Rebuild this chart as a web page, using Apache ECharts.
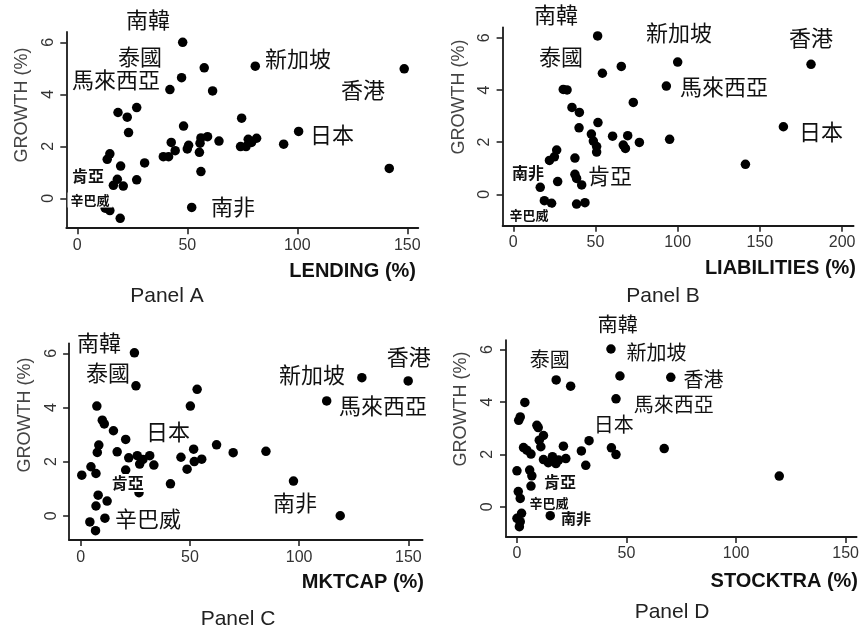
<!DOCTYPE html>
<html><head><meta charset="utf-8">
<script src="https://cdn.jsdelivr.net/npm/echarts@6/dist/echarts.min.js"></script>
<style>html,body{margin:0;padding:0;background:#fff}#c{width:862px;height:633px}</style>
</head><body><div id="c"></div>
<script>
// ---- data (x value, GROWTH %) ----
const lendingGrowth = [[47.9,6.0],[57.7,5.02],[47.4,4.64],[80.9,5.08],[148.6,4.98],[42.1,4.18],[61.5,4.13],[18.5,3.30],[22.7,3.12],[27.0,3.49],[23.3,2.53],[48.3,2.78],[74.7,3.08],[100.6,2.57],[42.7,2.15],[44.5,1.83],[39.1,1.6],[41.5,1.6],[50.0,1.9],[50.6,2.04],[55.8,2.12],[56.2,2.32],[59.2,2.37],[55.5,1.77],[64.4,2.2],[56.2,1.03],[74.2,1.99],[76.7,1.99],[77.7,2.27],[81.5,2.31],[79.2,2.15],[93.8,2.08],[141.8,1.15],[52.0,-0.35],[14.8,1.71],[13.6,1.5],[19.7,1.24],[30.6,1.36],[18.2,0.73],[27.0,0.71],[20.9,0.47],[12.7,-0.38],[14.8,-0.47],[19.5,-0.77],[16.4,0.5]];
const liabilitiesGrowth = [[51.3,6.07],[100,5.07],[181.1,4.98],[54.2,4.64],[65.7,4.9],[93.1,4.15],[30.4,4.02],[32.7,4.0],[73,3.52],[35.7,3.33],[40.2,3.14],[40,2.55],[51.5,2.75],[164.3,2.59],[47.5,2.31],[48.7,2.04],[50.7,1.83],[50.7,1.62],[60.4,2.23],[69.6,2.25],[66.9,1.89],[68.2,1.76],[76.7,1.99],[95.1,2.11],[141.2,1.15],[26.4,1.7],[25,1.44],[37.5,1.39],[27,0.49],[37.5,0.77],[38.5,0.61],[41.6,0.36],[16.4,0.27],[18.9,-0.24],[23.3,-0.34],[38.5,-0.37],[43.6,-0.32],[22,1.3]];
const mktcapGrowth = [[24.6,6.02],[25.3,4.8],[53.3,4.67],[50.2,4.05],[128.7,5.1],[149.9,4.98],[112.6,4.24],[7.4,4.05],[9.9,3.53],[10.8,3.39],[15,3.14],[20.6,2.82],[8.3,2.61],[7.6,2.34],[16.7,2.36],[22,2.14],[25.9,2.22],[27,1.91],[31.6,2.22],[33.5,1.87],[20.6,1.69],[28.5,2.08],[4.7,1.81],[0.5,1.5],[7,1.56],[41.1,1.18],[45.9,2.16],[48.7,1.72],[51.7,2.46],[52,2.0],[55.4,2.09],[62.2,2.62],[69.8,2.33],[84.8,2.38],[97.4,1.28],[118.8,0],[8,0.76],[7,0.36],[12.1,0.54],[11.1,-0.09],[4.2,-0.23],[6.8,-0.55],[26.7,0.85]];
const stocktraGrowth = [[42.9,6.02],[17.9,4.84],[24.5,4.6],[47,4.99],[70.2,4.94],[45.2,4.12],[3.6,3.98],[1.5,3.43],[0.8,3.3],[9.7,3.02],[9.1,3.11],[12.1,2.72],[10.2,2.54],[10.9,2.29],[3,2.26],[4.5,2.16],[6.4,2.01],[21.2,2.31],[22.3,1.84],[19,1.78],[16.2,1.91],[14.3,1.68],[12.1,1.8],[17.8,1.65],[29.4,2.13],[32.9,2.52],[31.4,1.58],[43.1,2.25],[45.2,1.99],[67.2,2.22],[119.7,1.17],[0,1.37],[5.8,1.4],[6.8,1.18],[6.4,0.79],[0.6,0.58],[1.5,0.32],[2.1,-0.25],[0,-0.44],[1.5,-0.57],[1.1,-0.76],[15.2,-0.34]];

// tick labels
const xTicksA = [0,50,100,150];
const xTicksB = [0,50,100,150,200];
const xTicksC = [0,50,100,150];
const xTicksD = [0,50,100,150];
const yTicks = [0,2,4,6];

// axis titles / panel titles
const xNames = ['LENDING (%)','LIABILITIES (%)','MKTCAP (%)','STOCKTRA (%)'];
const yName = 'GROWTH (%)';
const panelNames = ['Panel A','Panel B','Panel C','Panel D'];

// country annotations: [text, x, y, kind]
const labelsA = [['南韓',32.1,6.86,'big'],['泰國',28.5,5.43,'big'],['馬來西亞',17.6,4.55,'big'],['新加坡',100.3,5.36,'big'],['香港',129.9,4.17,'big'],['日本',115.8,2.43,'big'],['南非',70.8,-0.33,'big'],['肯亞',4.9,0.86,'bold'],['辛巴威',5.8,-0.07,'small']];
const labelsB = [['南韓',26,6.87,'big'],['新加坡',100.8,6.18,'big'],['香港',181.1,5.99,'big'],['泰國',29,5.26,'big'],['馬來西亞',128.2,4.11,'big'],['日本',187.2,2.42,'big'],['肯亞',58.8,0.7,'big'],['南非',8.9,0.82,'bold'],['辛巴威',9.5,-0.79,'small']];
const labelsC = [['南韓',8.4,6.38,'big'],['泰國',12.5,5.27,'big'],['新加坡',105.9,5.2,'big'],['香港',150.2,5.86,'big'],['馬來西亞',138.4,4.05,'big'],['日本',40,3.09,'big'],['肯亞',21.6,1.21,'bold'],['辛巴威',30.8,-0.12,'big'],['南非',98.1,0.47,'big']];
const labelsD = [['南韓',46,6.94,'big'],['新加坡',63.7,5.9,'big'],['泰國',15,5.64,'big'],['香港',85.1,4.87,'big'],['馬來西亞',71.5,3.92,'big'],['日本',44.2,3.16,'big'],['肯亞',19.6,0.94,'bold'],['辛巴威',14.6,0.14,'small'],['南非',26.9,-0.43,'boldm']];

// ---- layout ----
const grids = [
  {left:66.3, top:31.9, width:352, height:196.3},
  {left:502.6, top:27.3, width:351, height:198.4},
  {left:69.1, top:343.3, width:353.5, height:196.8},
  {left:506, top:340.1, width:351.5, height:196.8}
];
const xRanges = [[-5,155],[-6.5,207],[-5.3,156.5],[-5,155]];
const yRanges = [[-1.15,6.4],[-1.2,6.4],[-0.9,6.37],[-1.15,6.36]];
const xTickSets = [xTicksA,xTicksB,xTicksC,xTicksD];
const seriesData = [lendingGrowth, liabilitiesGrowth, mktcapGrowth, stocktraGrowth];
const allLabels = [labelsA,labelsB,labelsC,labelsD];

const LAT = '"Liberation Sans", Arial, sans-serif';
const CJK = '"Noto Sans CJK TC", "Noto Sans CJK SC", sans-serif';
const axisCol = '#1a1a1a';

const chart = echarts.init(document.getElementById('c'));
const option = {
  animation:false,
  backgroundColor:'#fff',
  grid: grids.map(g=>Object.assign({containLabel:false},g)),
  xAxis: grids.map((g,i)=>({
    gridIndex:i, type:'value', min:xRanges[i][0], max:xRanges[i][1],
    axisLine:{show:true,onZero:false,lineStyle:{color:axisCol,width:1.8}},
    axisTick:{show:true,customValues:xTickSets[i],length:6,lineStyle:{color:axisCol,width:1.5}},
    axisLabel:{customValues:xTickSets[i],margin:9,fontSize:16,color:'#333',fontFamily:LAT},
    splitLine:{show:false}
  })),
  yAxis: grids.map((g,i)=>({
    gridIndex:i, type:'value', min:yRanges[i][0], max:yRanges[i][1],
    axisLine:{show:true,onZero:false,lineStyle:{color:axisCol,width:1.8}},
    axisTick:{show:true,customValues:yTicks,length:6,lineStyle:{color:axisCol,width:1.5}},
    axisLabel:{customValues:yTicks,rotate:90,margin:10,fontSize:16,color:'#333',fontFamily:LAT},
    splitLine:{show:false}
  })),
  series: seriesData.map((d,i)=>({
    type:'scatter', xAxisIndex:i, yAxisIndex:i, data:d, symbolSize:9.5,
    itemStyle:{color:'#000',opacity:1}, z:2
  }))
};
chart.setOption(option);

// annotations converted through the axis scales
const gfx = [];
const bigSize = [22,22,22,20];
allLabels.forEach((arr,i)=>{
  arr.forEach(([t,x,y,k])=>{
    const p = chart.convertToPixel({gridIndex:i},[x,y]);
    let font, bg=null, pad=0;
    if(k==='big'){ font = '400 '+bigSize[i]+'px '+CJK; }
    else if(k==='bold'){ font = '700 16px '+CJK; bg='#fff'; pad=[1,3]; }
    else if(k==='boldm'){ font = '700 15px '+CJK; bg='#fff'; pad=[1,3]; }
    else { font = '700 13px '+CJK; bg='#fff'; pad=[1,3]; }
    const st = {text:t, x:p[0], y:p[1], font:font, fill:'#111', align:'center', verticalAlign:'middle'};
    if(bg){ st.backgroundColor = bg; st.padding = pad; }
    gfx.push({type:'text', z:100, style:st});
  });
});
// axis titles
const yNamePos = [[22,105],[459,97],[25,415],[461,409]];
const xNamePos = [[416,271],[856,268],[424,582],[858,581]];
const panelPos = [[167,296],[663,296],[238,619],[672,612]];
for(let i=0;i<4;i++){
  gfx.push({type:'text', z:100, x:yNamePos[i][0], y:yNamePos[i][1], rotation:Math.PI/2,
    style:{text:yName, font:'400 18px '+LAT, fill:'#444', align:'center', verticalAlign:'middle'}});
  gfx.push({type:'text', z:100, style:{text:xNames[i], x:xNamePos[i][0], y:xNamePos[i][1],
    font:'700 20px '+LAT, fill:'#111', align:'right', verticalAlign:'middle'}});
  gfx.push({type:'text', z:100, style:{text:panelNames[i], x:panelPos[i][0], y:panelPos[i][1],
    font:'400 21px '+LAT, fill:'#222', align:'center', verticalAlign:'middle'}});
}
chart.setOption({graphic:{elements:gfx}});
</script></body></html>
